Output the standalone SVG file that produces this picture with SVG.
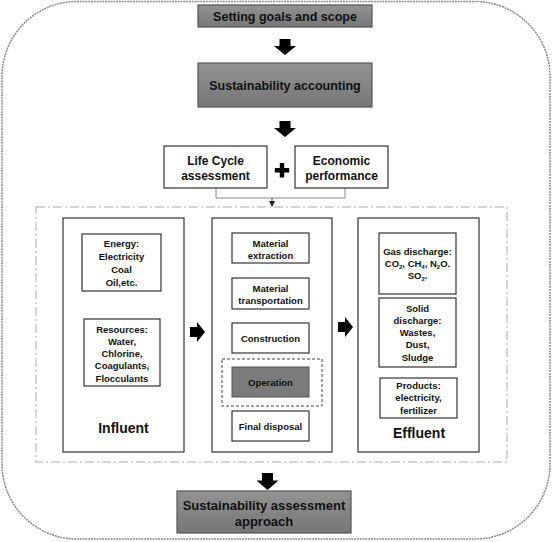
<svg xmlns="http://www.w3.org/2000/svg" width="552" height="542" viewBox="0 0 552 542">
<defs>
<linearGradient id="gray" x1="0" y1="0" x2="0" y2="1">
<stop offset="0" stop-color="#939393"/>
<stop offset="1" stop-color="#767676"/>
</linearGradient>
<marker id="tip" viewBox="0 0 6 6" refX="5" refY="3" markerWidth="6" markerHeight="6" orient="auto" markerUnits="userSpaceOnUse">
<path d="M0 0 L6 3 L0 6 z" fill="#222"/>
</marker>
</defs>
<style>
text{font-family:"Liberation Sans",Arial,sans-serif;fill:#111;text-anchor:middle}
.b{font-weight:bold}
.t12{font-size:12.5px}
.t9{font-size:9.5px}
.big{font-size:14px;font-weight:bold}
.box{fill:#fff;stroke:#333;stroke-width:1.2}
.gbox{fill:url(#gray);stroke:#555;stroke-width:1.2}
.arr{fill:#000}
</style>
<rect x="2" y="1.5" width="548" height="537.5" rx="75" ry="75" fill="#fff" stroke="#8a8a8a" stroke-width="1.5" stroke-dasharray="2 0.8"/>
<rect x="36" y="207" width="471" height="255" fill="none" stroke="#aaa" stroke-width="1" stroke-dasharray="9 3 2 3"/>

<g id="connectors">
<path class="arr" d="M279.5 39 h11 v7 h5.5 l-11 9 l-11 -9 h5.5 z"/>
<path class="arr" d="M279.5 121 h11 v7 h5.5 l-11 9 l-11 -9 h5.5 z"/>
<path class="arr" d="M262 473 h11 v7.5 h5.5 l-11 9.5 l-11 -9.5 h5.5 z"/>
<path class="arr" d="M190 327 h7 v-5 l8 10 l-8 10 v-5 h-7 z"/>
<path class="arr" d="M338 322 h7 v-5 l8 10 l-8 10 v-5 h-7 z"/>
<path d="M216 188 V198 H345 V188" fill="none" stroke="#888" stroke-width="1"/>
<path d="M272 198 V206" fill="none" stroke="#444" stroke-width="1" marker-end="url(#tip)"/>
<path class="arr" d="M279.8 163 h4.4 v5 h5 v4.4 h-5 v5 h-4.4 v-5 h-5 v-4.4 h5 z"/>
</g>

<g id="setting-goals">
<rect class="gbox" x="198" y="5" width="174" height="22"/>
<text class="b t12" x="285" y="20.5">Setting goals and scope</text>
</g>
<g id="sustainability-accounting">
<rect class="gbox" x="198" y="63" width="174" height="44"/>
<text class="b t12" x="285" y="89.5">Sustainability accounting</text>
</g>
<g id="lca">
<rect class="box" x="164" y="146" width="103" height="42"/>
<text class="b" style="font-size:12px" x="215.5" y="165">Life Cycle</text>
<text class="b" style="font-size:12px" x="215.5" y="180">assessment</text>
</g>
<g id="economic">
<rect class="box" x="295" y="146" width="93" height="42"/>
<text class="b" style="font-size:12px" x="341.5" y="165">Economic</text>
<text class="b" style="font-size:12px" x="341.5" y="180">performance</text>
</g>

<g id="influent">
<rect class="box" x="63" y="218" width="121" height="234"/>
<text class="big" x="123.5" y="433">Influent</text>
</g>
<g id="energy">
<rect class="box" x="82" y="234" width="79" height="57"/>
<text class="b t9" x="121.5" y="246.5">Energy:</text>
<text class="b t9" x="121.5" y="259.5">Electricity</text>
<text class="b t9" x="121.5" y="272.5">Coal</text>
<text class="b t9" x="121.5" y="285.5">Oil,etc.</text>
</g>
<g id="resources">
<rect class="box" x="84" y="319" width="76" height="67"/>
<text class="b t9" x="122" y="332.5">Resources:</text>
<text class="b t9" x="122" y="344.8">Water,</text>
<text class="b t9" x="122" y="357.1">Chlorine,</text>
<text class="b t9" x="122" y="369.4">Coagulants,</text>
<text class="b t9" x="122" y="381.7">Flocculants</text>
</g>

<g id="lifecycle-stages">
<rect class="box" x="212" y="218" width="120" height="234"/>
</g>
<g id="material-extraction">
<rect class="box" x="232" y="233" width="77" height="30"/>
<text class="b t9" x="270.5" y="246.5">Material</text>
<text class="b t9" x="270.5" y="258.5">extraction</text>
</g>
<g id="material-transportation">
<rect class="box" x="232" y="278" width="77" height="31"/>
<text class="b t9" x="270.5" y="291.5">Material</text>
<text class="b t9" x="270.5" y="303.5">transportation</text>
</g>
<g id="construction">
<rect class="box" x="232" y="323" width="77" height="30"/>
<text class="b t9" x="270.5" y="341.5">Construction</text>
</g>
<g id="operation">
<rect x="222" y="359" width="100" height="47" fill="none" stroke="#444" stroke-width="1" stroke-dasharray="3 2"/>
<rect x="232" y="367" width="77" height="30" fill="#7b7b7b" stroke="#555" stroke-width="1"/>
<text class="b t9" x="270.5" y="385.5">Operation</text>
</g>
<g id="final-disposal">
<rect class="box" x="232" y="411" width="77" height="30"/>
<text class="b t9" x="270.5" y="429.5">Final disposal</text>
</g>

<g id="effluent">
<rect class="box" x="358" y="218" width="121" height="234"/>
<text class="big" x="419" y="438">Effluent</text>
</g>
<g id="gas-discharge">
<rect class="box" x="379" y="233" width="77" height="61"/>
<text class="b t9" x="417.5" y="254.5">Gas discharge:</text>
<text class="b t9" x="417.5" y="266.5">CO<tspan style="font-size:6px" dy="2">2</tspan><tspan dy="-2">, CH</tspan><tspan style="font-size:6px" dy="2">4</tspan><tspan dy="-2">, N</tspan><tspan style="font-size:6px" dy="2">2</tspan><tspan dy="-2">O.</tspan></text>
<text class="b t9" x="417.5" y="278.5">SO<tspan style="font-size:6px" dy="2">2</tspan><tspan dy="-2">.</tspan></text>
</g>
<g id="solid-discharge">
<rect class="box" x="379" y="298" width="77" height="69"/>
<text class="b t9" x="417.5" y="311.5">Solid</text>
<text class="b t9" x="417.5" y="323.8">discharge:</text>
<text class="b t9" x="417.5" y="336.1">Wastes,</text>
<text class="b t9" x="417.5" y="348.4">Dust,</text>
<text class="b t9" x="417.5" y="360.7">Sludge</text>
</g>
<g id="products">
<rect class="box" x="380" y="378" width="77" height="40"/>
<text class="b t9" x="418.5" y="388.8">Products:</text>
<text class="b t9" x="418.5" y="401.3">electricity,</text>
<text class="b t9" x="418.5" y="413.8">fertilizer</text>
</g>

<g id="assessment-approach">
<rect class="gbox" x="177" y="491" width="174" height="42"/>
<text class="b" style="font-size:13px" x="264" y="509.5">Sustainability assessment</text>
<text class="b" style="font-size:13px" x="264" y="525.5">approach</text>
</g>
</svg>
